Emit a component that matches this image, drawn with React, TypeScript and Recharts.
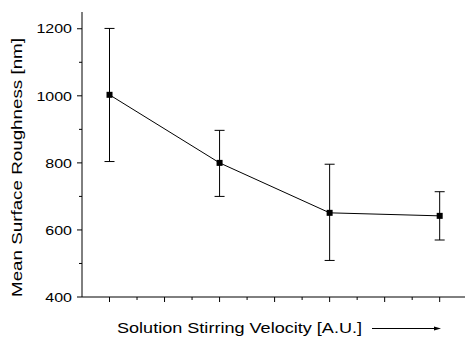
import { LineChart, Line, XAxis, YAxis, ErrorBar } from "recharts";

const velocity = [1, 2, 3, 4];
const roughness = [1003, 800, 651, 642];
const errLow = [199, 100, 142, 72];
const errHigh = [198, 97, 145, 72];

const yTicks = [400, 500, 600, 700, 800, 900, 1000, 1100, 1200];
const xTicks = [1, 1.25, 1.5, 1.75, 2, 2.25, 2.5, 2.75, 3, 3.25, 3.5, 3.75, 4];

const data = velocity.map((v, i) => ({
  v,
  r: roughness[i],
  err: [errLow[i], errHigh[i]],
}));

const font = "'Liberation Sans', Arial, sans-serif";

const XTick = (props: any) => {
  const { x, y, payload } = props;
  const major = Math.abs(payload.value * 2 - Math.round(payload.value * 2)) < 1e-6;
  return <line x1={x} x2={x} y1={y} y2={y + (major ? 5 : 3)} stroke="#000" />;
};

const YTick = (props: any) => {
  const { x, y, payload } = props;
  const major = payload.value % 200 === 0;
  return (
    <g>
      <line x1={x} x2={x - (major ? 5 : 3)} y1={y} y2={y} stroke="#000" />
      {major && (
        <text
          x={x - 10}
          y={y}
          dy="0.36em"
          textAnchor="end"
          fontSize={13}
          fontFamily={font}
          fill="#000"
          textLength={String(payload.value).length * 8.9}
          lengthAdjust="spacingAndGlyphs"
        >
          {payload.value}
        </text>
      )}
    </g>
  );
};

const XLabel = () => (
  <g>
    <text
      x={117}
      y={332.5}
      fontSize={15}
      fontFamily={font}
      fill="#000"
      textLength={245}
      lengthAdjust="spacingAndGlyphs"
    >
      Solution Stirring Velocity [A.U.]
    </text>
    <line x1={372} x2={436} y1={328.5} y2={328.5} stroke="#000" />
    <polygon points="434,326.5 441,328.5 434,330.5" fill="#000" />
  </g>
);

const YLabel = () => (
  <text
    x={0}
    y={0}
    transform="translate(22,167.5) rotate(-90)"
    textAnchor="middle"
    fontSize={15}
    fontFamily={font}
    fill="#000"
    textLength={259}
    lengthAdjust="spacingAndGlyphs"
  >
    Mean Surface Roughness [nm]
  </text>
);

const Square = (p: any) => (
  <rect key={`d${p.index}`} x={p.cx - 3} y={p.cy - 3} width={6} height={6} fill="#000" />
);

export default function App() {
  return (
    <div style={{ position: "absolute", left: 0, top: 0, background: "#fff" }}>
      <LineChart
        width={465}
        height={338}
        data={data}
        margin={{ top: 12, right: 0, bottom: 0, left: 0 }}
      >
        <XAxis
          dataKey="v"
          type="number"
          domain={[0.75, 4.23]}
          ticks={xTicks}
          interval={0}
          height={41}
          tickSize={0}
          tickMargin={0}
          tickLine={false}
          tick={<XTick />}
          axisLine={{ stroke: "#000" }}
          allowDataOverflow
          label={{ content: <XLabel /> }}
        />
        <YAxis
          type="number"
          domain={[400, 1250]}
          ticks={yTicks}
          interval={0}
          width={82}
          tickSize={0}
          tickMargin={0}
          tickLine={false}
          tick={<YTick />}
          axisLine={{ stroke: "#000" }}
          allowDataOverflow
          label={{ content: <YLabel /> }}
        />
        <Line
          dataKey="r"
          stroke="#000"
          strokeWidth={1}
          dot={Square}
          activeDot={false}
          isAnimationActive={false}
        >
          <ErrorBar dataKey="err" direction="y" width={5} stroke="#000" strokeWidth={1} />
        </Line>
      </LineChart>
    </div>
  );
}
